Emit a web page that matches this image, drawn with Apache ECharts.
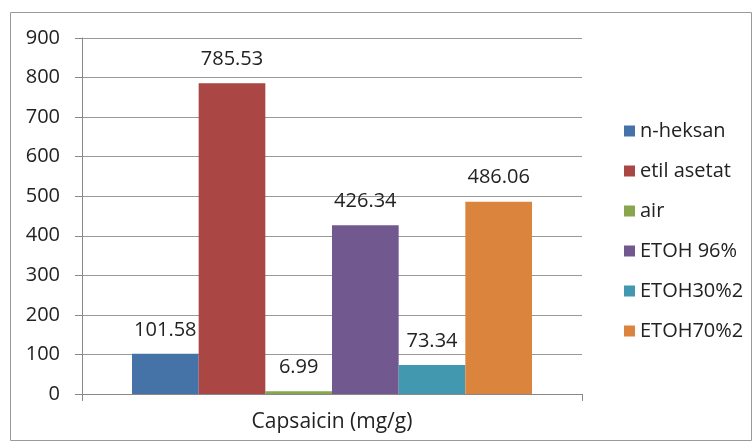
<!DOCTYPE html>
<html>
<head>
<meta charset="utf-8">
<script src="https://cdn.jsdelivr.net/npm/echarts@6/dist/echarts.min.js"></script>
<style>
  html, body { margin: 0; padding: 0; background: #fff; }
  #chart_container { width: 755px; height: 444px; }
</style>
</head>
<body>
<div id="chart_container"></div>
<script>
var categories = ['Capsaicin (mg/g)'];
var seriesNames = ['n-heksan', 'etil asetat', 'air', 'ETOH 96%', 'ETOH30%2', 'ETOH70%2'];
var seriesValues = [101.58, 785.53, 6.99, 426.34, 73.34, 486.06];
var colors = ['#4572A7', '#AA4643', '#89A54E', '#71588F', '#4198AF', '#DB843D'];

var dom = document.getElementById("chart_container");
var myChart = echarts.init(dom);
var fontFam = '"Open Sans", sans-serif';

var series_list = seriesNames.map(function (name, i) {
    return {
        name: name,
        type: 'bar',
        barGap: '0%',
        barCategoryGap: '20%',
        itemStyle: { color: colors[i] },
        label: {
            show: true,
            position: 'top',
            distance: 14,
            color: '#222',
            fontSize: 20,
            lineHeight: 20,
            fontFamily: fontFam,
            formatter: function (p) { return p.value.toFixed(2); }
        },
        data: [seriesValues[i]]
    };
});

var option = {
    animation: false,
    color: colors,
    graphic: [{
        type: 'rect',
        shape: { x: 10.5, y: 12.5, width: 741, height: 428 },
        style: { fill: 'none', stroke: '#999', lineWidth: 1 },
        silent: true
    }],
    grid: { left: 82, right: 173, top: 38, bottom: 50 },
    legend: {
        orient: 'vertical',
        left: 619,
        top: 116,
        itemWidth: 11,
        itemHeight: 11,
        itemGap: 20,
        icon: 'rect',
        textStyle: { fontSize: 20, lineHeight: 20, color: '#222', fontFamily: fontFam },
        data: seriesNames
    },
    xAxis: {
        type: 'category',
        data: categories,
        axisLine: { lineStyle: { color: '#888' } },
        axisTick: { show: true, length: 7, lineStyle: { color: '#888' } },
        axisLabel: { margin: 18, fontSize: 21, lineHeight: 21, color: '#222', fontFamily: fontFam }
    },
    yAxis: {
        type: 'value',
        min: 0,
        max: 900,
        interval: 100,
        axisLine: { show: true, lineStyle: { color: '#888' } },
        axisTick: { show: true, length: 7, lineStyle: { color: '#888' } },
        axisLabel: { margin: 22, fontSize: 20, color: '#222', fontFamily: fontFam },
        splitLine: { show: true, lineStyle: { color: '#999' } }
    },
    series: series_list
};

myChart.setOption(option, true);
</script>
</body>
</html>
